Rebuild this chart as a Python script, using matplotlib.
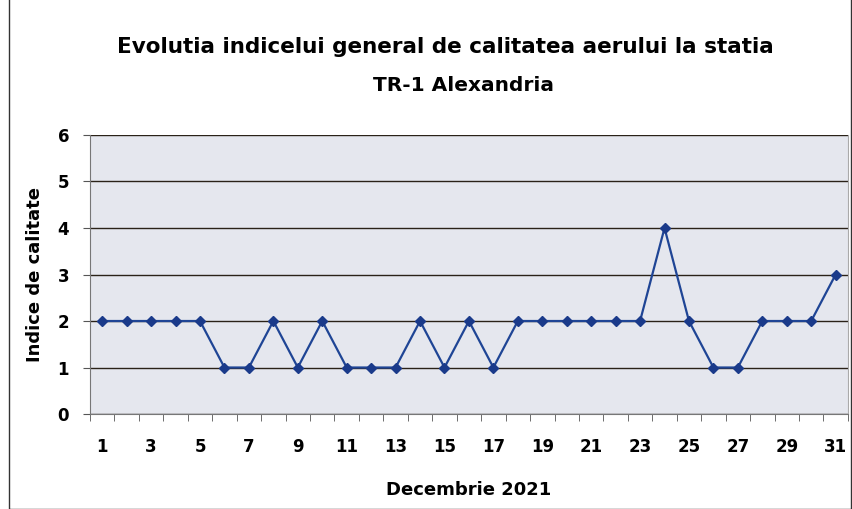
import matplotlib.pyplot as plt
from matplotlib.patches import Rectangle

days = list(range(1, 32))
index_values = [2, 2, 2, 2, 2, 1, 1, 2, 1, 2, 1, 1, 1, 2, 1, 2, 1, 2, 2, 2,
                2, 2, 2, 4, 2, 1, 1, 2, 2, 2, 3]
tick_labels = [str(d) if d % 2 == 1 else "" for d in days]

plt.rcParams['font.family'] = ['DejaVu Sans']
plt.rcParams['font.weight'] = 'bold'

fig = plt.figure(figsize=(8.53, 5.09), dpi=100)
ax = fig.add_axes([0.1055, 0.1866, 0.8885, 0.5482])
ax.set_facecolor('#e5e7ee')

ax.plot(days, index_values, color='#1f4595', linewidth=1.6, marker='D',
        markersize=5.5, markerfacecolor='#1a3a8a', markeredgecolor='#1a3a8a', zorder=3)

ax.set_xlim(0.5, 31.5)
ax.set_ylim(0, 6)
ax.set_yticks(range(0, 7))
ax.set_xticks(days)
ax.set_xticklabels(tick_labels, fontsize=12, fontweight='bold')
ax.set_xticks([d + 0.5 for d in range(0, 32)], minor=True)
ax.tick_params(axis='x', which='major', length=0, pad=17)
ax.tick_params(axis='x', which='minor', length=5, direction='out', color='#555555')
ax.tick_params(axis='y', labelsize=12, length=5, direction='out', color='#555555', pad=10)
for lbl in ax.get_yticklabels():
    lbl.set_fontweight('bold')

ax.grid(True, axis='y', color='#2a2218', linewidth=1.0)
ax.set_axisbelow(True)
ax.spines['top'].set_visible(False)
ax.spines['left'].set_color('#777777')
ax.spines['bottom'].set_color('#777777')
ax.spines['right'].set_color('#aaaaaa')

ax.set_ylabel("Indice de calitate", fontsize=13, fontweight='bold', labelpad=10)
ax.set_xlabel("Decembrie 2021", fontsize=13, fontweight='bold', labelpad=18)

fig.text(0.522, 0.908, "Evolutia indicelui general de calitatea aerului la statia",
         ha='center', va='center', fontsize=15.5, fontweight='bold')
fig.text(0.543, 0.832, "TR-1 Alexandria", ha='center', va='center',
         fontsize=14.5, fontweight='bold')

fig.patches.append(Rectangle((0.01, 0.0), 0.988, 1.2, transform=fig.transFigure,
                             fill=False, edgecolor='#333333', linewidth=1.0))

fig.savefig("out.png", dpi=100)
